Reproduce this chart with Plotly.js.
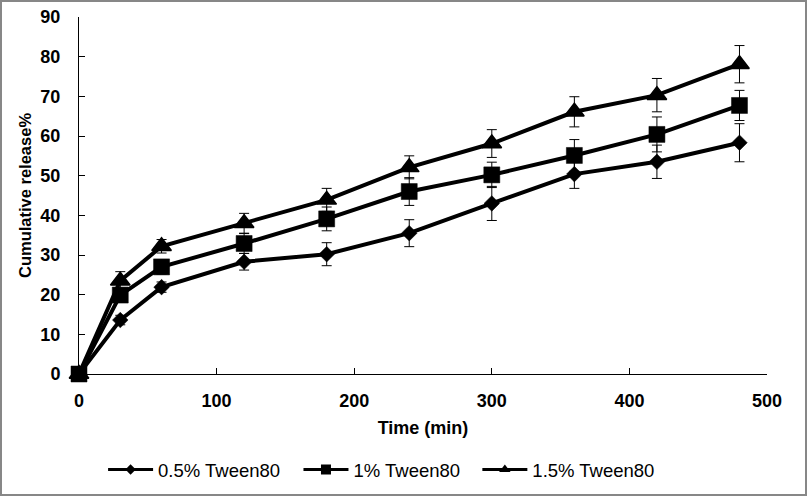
<!DOCTYPE html>
<html>
<head>
<meta charset="utf-8">
<script src="https://cdn.plot.ly/plotly-3.0.1.min.js"></script>
<style>
  html, body { margin: 0; padding: 0; background: #fff; }
  #wrap { position: relative; width: 807px; height: 496px; }
  #chart { width: 807px; height: 496px; }
  #frame { position: absolute; left: 0; top: 0; width: 807px; height: 496px; box-sizing: border-box; border: 2px solid #878787; pointer-events: none; }
</style>
</head>
<body>
<div id="wrap"><div id="chart"></div><div id="frame"></div></div>
<script>
const time = [0, 30, 60, 120, 180, 240, 300, 360, 420, 480];
const seriesNames = ['0.5% Tween80', '1% Tween80', '1.5% Tween80'];
const release05 = [0, 13.6, 21.9, 28.3, 30.2, 35.5, 43.0, 50.4, 53.5, 58.3];
const err05     = [0, 1.2, 1.3, 2.1, 2.9, 3.4, 4.3, 3.6, 4.2, 4.8];
const release10 = [0, 19.9, 27.0, 32.9, 39.1, 46.0, 50.2, 55.1, 60.4, 67.7];
const err10     = [0, 1.5, 1.8, 2.5, 3.0, 3.5, 3.2, 4.0, 4.4, 3.8];
const release15 = [0, 23.5, 32.2, 38.0, 43.9, 52.1, 58.1, 66.1, 70.3, 78.1];
const err15     = [0, 2.3, 1.7, 2.5, 2.9, 2.9, 3.5, 3.8, 4.2, 4.7];
const symbols = ['diamond', 'square', 'triangle-up'];
const markerSizes = [12, 16, 17];
const markerEdge = [0.5, 0.5, 1.5];
const legendMarkerSizes = [8, 10, 10];
const legendIds = ['legend', 'legend2', 'legend3'];
const legendX = [0.035, 0.319, 0.579];

const ys = [release05, release10, release15];
const es = [err05, err10, err15];

const traces = ys.map((y, i) => ({
  x: time,
  y: y,
  name: seriesNames[i],
  type: 'scatter',
  mode: 'lines+markers',
  cliponaxis: false,
  showlegend: false,
  line: { color: '#000', width: 4 },
  marker: { symbol: symbols[i], size: markerSizes[i], color: '#000', line: { color: '#000', width: markerEdge[i] } },
  error_y: { type: 'data', array: es[i], visible: true, color: '#000', thickness: 1, width: 5 }
}));

// legend-only entries (smaller symbols, as in the reference legend)
seriesNames.forEach((n, i) => {
  traces.push({
    x: [null], y: [null],
    name: n,
    type: 'scatter',
    mode: 'lines+markers',
    showlegend: true,
    legend: legendIds[i],
    line: { color: '#000', width: 3 },
    marker: { symbol: symbols[i], size: legendMarkerSizes[i], color: '#000' }
  });
});

const fontFam = '"Liberation Sans", Arial, sans-serif';
const layout = {
  width: 807,
  height: 496,
  margin: { l: 79, r: 40, t: 17, b: 122, autoexpand: false },
  paper_bgcolor: '#fff',
  plot_bgcolor: '#fff',
  showlegend: true,
  font: { family: fontFam, color: '#000', size: 18 },
  xaxis: {
    range: [0, 500],
    dtick: 100,
    tick0: 0,
    ticks: 'inside',
    ticklen: 6,
    tickcolor: '#000',
    showline: true,
    linecolor: '#000',
    linewidth: 1,
    showgrid: false,
    zeroline: false,
    automargin: false,
    ticklabelstandoff: 10,
    tickfont: { family: fontFam, size: 18, weight: 'bold', color: '#000' },
    title: { text: 'Time (min)', font: { family: fontFam, size: 18, weight: 'bold', color: '#000' }, standoff: 11 }
  },
  yaxis: {
    range: [0, 90],
    dtick: 10,
    tick0: 0,
    ticks: 'inside',
    ticklen: 6,
    tickcolor: '#000',
    showline: true,
    linecolor: '#000',
    linewidth: 1,
    showgrid: false,
    zeroline: false,
    automargin: false,
    ticklabelstandoff: 14,
    tickfont: { family: fontFam, size: 18, weight: 'bold', color: '#000' },
    title: { text: 'Cumulative release%', font: { family: fontFam, size: 16.5, weight: 'bold', color: '#000' }, standoff: 4 }
  }
};

legendIds.forEach((id, i) => {
  layout[id] = {
    orientation: 'h',
    x: legendX[i],
    xanchor: 'left',
    y: -0.269,
    yanchor: 'middle',
    font: { family: fontFam, size: 18.5, color: '#000' },
    bgcolor: 'rgba(0,0,0,0)',
    borderwidth: 0,
    itemwidth: 45
  };
});

Plotly.newPlot('chart', traces, layout, { displayModeBar: false, staticPlot: true });
</script>
</body>
</html>
